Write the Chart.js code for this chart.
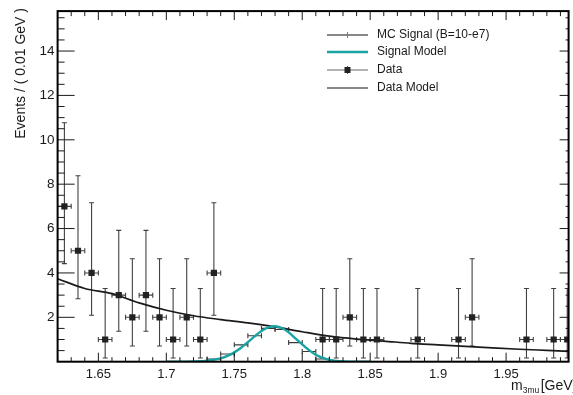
<!DOCTYPE html>
<html>
<head>
<meta charset="utf-8">
<script src="https://cdn.jsdelivr.net/npm/chart.js@4.4.1/dist/chart.umd.min.js"></script>
<style>
  html, body { margin: 0; padding: 0; background: #fff; }
  #wrap { width: 573px; height: 395px; position: relative; }
</style>
</head>
<body>
<div id="wrap"><canvas id="c" width="573" height="395"></canvas></div>
<script>
// Observed events per 0.01 GeV bin (empty bins are not drawn)
const binCenters = [1.625, 1.635, 1.645, 1.655, 1.665, 1.675, 1.685, 1.695, 1.705, 1.715, 1.725, 1.735,
                    1.815, 1.825, 1.835, 1.845, 1.855, 1.885, 1.915, 1.925, 1.965, 1.985, 1.995];
const counts     = [7, 5, 4, 1, 3, 2, 3, 2, 1, 2, 1, 4,
                    1, 1, 2, 1, 1, 1, 1, 2, 1, 1, 1];
// Lower and upper ends of the asymmetric (Poisson) error bars
const errBarLow  = [4.42, 2.84, 2.09, 0.17, 1.37, 0.71, 1.37, 0.71, 0.17, 0.71, 0.17, 2.09,
                    0.17, 0.17, 0.71, 0.17, 0.17, 0.17, 0.17, 0.71, 0.17, 0.17, 0.17];
const errBarHigh = [10.77, 8.38, 7.16, 3.30, 5.92, 4.64, 5.92, 4.64, 3.30, 4.64, 3.30, 7.16,
                    3.30, 3.30, 4.64, 3.30, 3.30, 3.30, 3.30, 4.64, 3.30, 3.30, 3.30];

// MC signal sample (B = 10e-7)
const mcBins   = [1.735, 1.745, 1.755, 1.765, 1.775, 1.785, 1.795, 1.805, 1.815];
const mcValues = [0.12, 0.35, 0.76, 1.17, 1.50, 1.45, 0.86, 0.46, 0.12];

// Signal model curve
const sigX = [1.700, 1.710, 1.720, 1.725, 1.730, 1.735, 1.740, 1.745, 1.750, 1.755, 1.760, 1.765, 1.770,
              1.775, 1.780, 1.785, 1.790, 1.795, 1.800, 1.805, 1.810, 1.815, 1.820, 1.825, 1.830, 1.840, 1.850];
const sigY = [0.00, 0.00, 0.01, 0.02, 0.05, 0.09, 0.15, 0.26, 0.42, 0.63, 0.88, 1.14, 1.38,
              1.55, 1.60, 1.52, 1.32, 1.05, 0.78, 0.52, 0.31, 0.17, 0.08, 0.03, 0.01, 0.00, 0.00];

// Background (data) model curve
const bkgX = [1.62, 1.64, 1.66, 1.68, 1.70, 1.72, 1.74, 1.76, 1.78, 1.80, 1.82, 1.84, 1.86, 1.88,
              1.90, 1.92, 1.94, 1.96, 1.98, 2.00];
const bkgY = [3.74, 3.30, 3.07, 2.65, 2.32, 2.07, 1.90, 1.75, 1.57, 1.35, 1.15, 1.02, 0.93, 0.83,
              0.76, 0.69, 0.62, 0.56, 0.51, 0.46];

// Axis tick labels
const xTickValues = [1.65, 1.7, 1.75, 1.8, 1.85, 1.9, 1.95];
const xTickLabels = ['1.65', '1.7', '1.75', '1.8', '1.85', '1.9', '1.95'];
const yTickValues = [2, 4, 6, 8, 10, 12, 14];
const yTickLabels = ['2', '4', '6', '8', '10', '12', '14'];

const legendLabels = ['MC Signal (B=10-e7)', 'Signal Model', 'Data', 'Data Model'];
const yTitle = 'Events / ( 0.01 GeV )';

const TEAL = '#1aa3a3';
const FONT = '"Liberation Sans", Arial, Helvetica, sans-serif';
const HALF_BIN = 0.005;

function line(ctx, x1, y1, x2, y2) {
  ctx.beginPath(); ctx.moveTo(x1, y1); ctx.lineTo(x2, y2); ctx.stroke();
}

const rootStyle = {
  id: 'rootStyle',
  beforeDatasetsDraw(chart) {
    const { ctx, chartArea: a } = chart;
    const xs = chart.scales.x, ys = chart.scales.y;
    ctx.save();
    ctx.beginPath(); ctx.rect(a.left, a.top, a.right - a.left, a.bottom - a.top); ctx.clip();
    // data error bars
    ctx.strokeStyle = '#404040'; ctx.lineWidth = 1.1;
    binCenters.forEach((c, i) => {
      const px = xs.getPixelForValue(c), py = ys.getPixelForValue(counts[i]);
      const xl = xs.getPixelForValue(c - HALF_BIN), xr = xs.getPixelForValue(c + HALF_BIN);
      const yl = ys.getPixelForValue(errBarLow[i]), yh = ys.getPixelForValue(errBarHigh[i]);
      line(ctx, xl, py, xr, py);
      line(ctx, xl, py - 2.5, xl, py + 2.5);
      line(ctx, xr, py - 2.5, xr, py + 2.5);
      line(ctx, px, yl, px, yh);
      line(ctx, px - 2.5, yl, px + 2.5, yl);
      line(ctx, px - 2.5, yh, px + 2.5, yh);
    });
    // MC signal bin widths
    ctx.strokeStyle = '#3a3a3a';
    mcBins.forEach((c, i) => {
      const py = ys.getPixelForValue(mcValues[i]);
      const xl = xs.getPixelForValue(c - HALF_BIN), xr = xs.getPixelForValue(c + HALF_BIN);
      line(ctx, xl, py, xr, py);
      line(ctx, xl, py - 2.5, xl, py + 2.5);
      line(ctx, xr, py - 2.5, xr, py + 2.5);
    });
    ctx.restore();
  },
  afterDraw(chart) {
    const { ctx, chartArea: a } = chart;
    const xs = chart.scales.x, ys = chart.scales.y;
    ctx.save();
    // tick marks on all four sides, pointing inwards
    ctx.strokeStyle = '#1a1a1a'; ctx.lineWidth = 1;
    for (let k = 162; k <= 199; k++) {
      const v = k / 100, px = xs.getPixelForValue(v);
      const major = k % 5 === 0;
      line(ctx, px, a.bottom, px, a.bottom - (major ? 9 : 4.5));
      line(ctx, px, a.top, px, a.top + (major ? 9 : 5));
    }
    for (let k = 1; k <= 31; k++) {
      const v = k / 2, py = ys.getPixelForValue(v);
      const major = k % 4 === 0;
      line(ctx, a.left, py, a.left + (major ? 17 : 7), py);
      line(ctx, a.right, py, a.right - (major ? 9 : 3), py);
    }
    // frame
    ctx.strokeStyle = '#000'; ctx.lineWidth = 2;
    ctx.strokeRect(a.left, a.top, a.right - a.left, a.bottom - a.top);

    // y axis title
    ctx.fillStyle = '#1a1a1a';
    ctx.font = '14px ' + FONT;
    ctx.save();
    ctx.translate(21, 8);
    ctx.rotate(-Math.PI / 2);
    ctx.textAlign = 'right'; ctx.textBaseline = 'middle';
    ctx.fillText(yTitle, 0, 0);
    ctx.restore();

    // x axis title: m_{3mu} [GeV]
    ctx.textAlign = 'left'; ctx.textBaseline = 'alphabetic';
    ctx.font = '14px ' + FONT;
    let tx = 511;
    ctx.fillText('m', tx, 390); tx += ctx.measureText('m').width;
    ctx.font = '8.5px ' + FONT;
    ctx.fillText('3mu', tx, 393); tx += ctx.measureText('3mu').width + 1.5;
    ctx.font = '14px ' + FONT;
    ctx.fillText('[GeV]', tx, 390);

    // legend
    const lx0 = 327, lx1 = 368, lxm = 347.5, ltx = 377;
    const rows = [35, 52, 70, 88];
    ctx.lineWidth = 1;
    ctx.strokeStyle = '#111';
    line(ctx, lx0, rows[0], lx1, rows[0]);
    ctx.strokeStyle = TEAL; line(ctx, lxm, rows[0] - 3, lxm, rows[0] + 3);
    ctx.lineWidth = 2.4; line(ctx, lx0, rows[1], lx1, rows[1]);
    ctx.lineWidth = 1; ctx.strokeStyle = '#666';
    line(ctx, lx0, rows[2], lx1, rows[2]);
    line(ctx, lxm, rows[2] - 4, lxm, rows[2] + 4);
    ctx.fillStyle = '#222'; ctx.fillRect(lxm - 3, rows[2] - 3, 6, 6);
    ctx.strokeStyle = '#111'; line(ctx, lx0, rows[3], lx1, rows[3]);
    ctx.fillStyle = '#1a1a1a';
    ctx.font = '12px ' + FONT; ctx.textBaseline = 'middle';
    legendLabels.forEach((t, i) => ctx.fillText(t, ltx, rows[i]));
    ctx.restore();
  }
};

new Chart(document.getElementById('c'), {
  type: 'scatter',
  data: {
    datasets: [
      {
        label: 'Data',
        data: binCenters.map((x, i) => ({ x, y: counts[i] })),
        pointStyle: 'rect', pointRadius: 4.4, pointHoverRadius: 4.4,
        backgroundColor: '#222', borderColor: '#222', borderWidth: 0
      },
      {
        label: 'MC Signal (B=10-e7)',
        data: mcBins.map((x, i) => ({ x, y: mcValues[i] })),
        pointRadius: 0, pointHoverRadius: 0
      },
      {
        label: 'Signal Model', type: 'line',
        data: sigX.map((x, i) => ({ x, y: sigY[i] })),
        borderColor: TEAL, borderWidth: 2.4, pointRadius: 0, fill: false,
        cubicInterpolationMode: 'monotone'
      },
      {
        label: 'Data Model', type: 'line',
        data: bkgX.map((x, i) => ({ x, y: bkgY[i] })),
        borderColor: '#1a1a1a', borderWidth: 1.7, pointRadius: 0, fill: false,
        cubicInterpolationMode: 'monotone'
      }
    ]
  },
  options: {
    responsive: false,
    animation: false,
    devicePixelRatio: 1,
    layout: { padding: { left: 0, right: 1, top: 9, bottom: 0 } },
    plugins: { legend: { display: false }, tooltip: { enabled: false } },
    scales: {
      x: {
        type: 'linear', min: 1.62, max: 1.996,
        grid: { display: false, drawTicks: false },
        border: { display: false },
        afterBuildTicks: s => { s.ticks = xTickValues.map(v => ({ value: v })); },
        afterFit: s => { s.height = 33.3; },
        ticks: {
          padding: 5, color: '#1a1a1a', maxRotation: 0, autoSkip: false,
          font: { family: FONT, size: 13 },
          callback: (v, i) => xTickLabels[i]
        }
      },
      y: {
        type: 'linear', min: 0, max: 15.8,
        grid: { display: false, drawTicks: false },
        border: { display: false },
        afterBuildTicks: s => { s.ticks = yTickValues.map(v => ({ value: v })); },
        afterFit: s => { s.width = 57.6; },
        ticks: {
          padding: 3, color: '#1a1a1a', autoSkip: false,
          font: { family: FONT, size: 13.5 },
          callback: (v, i) => yTickLabels[i]
        }
      }
    }
  },
  plugins: [rootStyle]
});
</script>
</body>
</html>
